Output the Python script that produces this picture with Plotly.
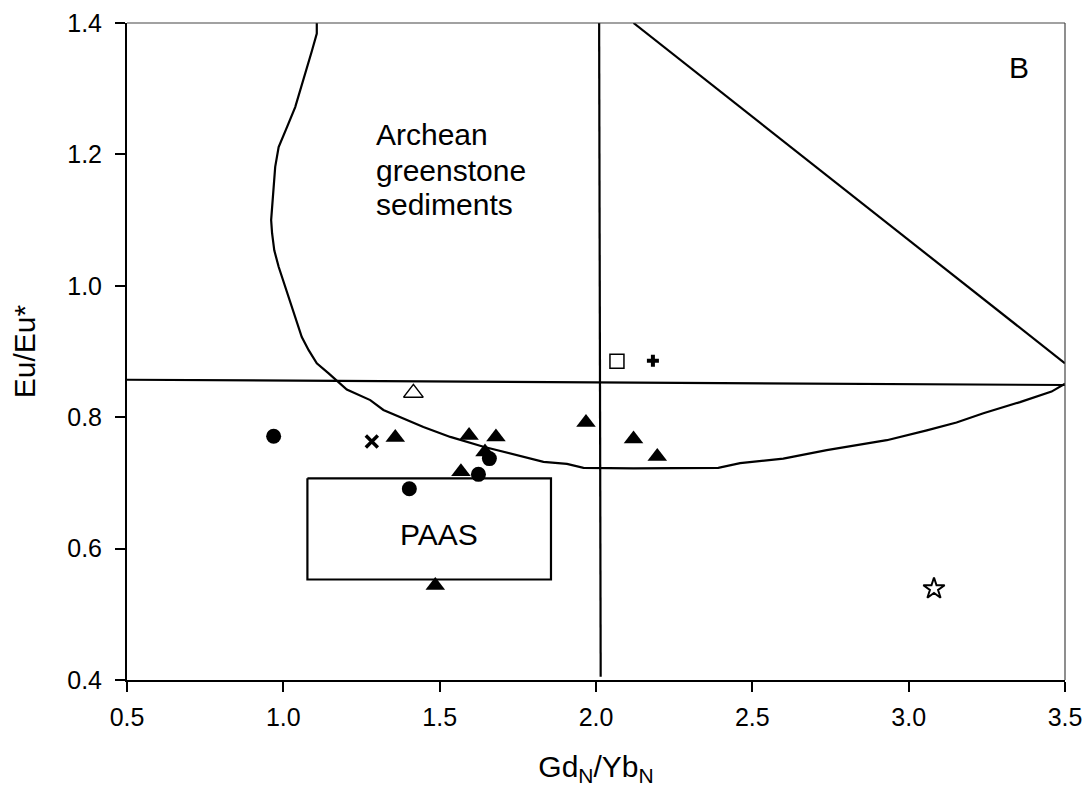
import plotly.graph_objects as go

# ---------------- data ----------------
# Archean greenstone sediments field boundary
field_x = [1.107, 1.107, 1.091, 1.070, 1.059, 1.038, 1.012, 0.985, 0.974, 0.967, 0.961, 0.964,
           0.971, 0.985, 1.006, 1.022, 1.043, 1.059, 1.081, 1.107, 1.144, 1.176, 1.203, 1.278,
           1.320, 1.448, 1.534, 1.640, 1.747, 1.832, 1.907, 1.960, 2.120, 2.333, 2.391, 2.461,
           2.599, 2.738, 2.930, 3.058, 3.153, 3.239, 3.356, 3.457, 3.494, 3.500]
field_y = [1.400, 1.384, 1.357, 1.323, 1.308, 1.272, 1.242, 1.211, 1.181, 1.130, 1.100, 1.080,
           1.054, 1.029, 0.998, 0.973, 0.943, 0.922, 0.902, 0.882, 0.867, 0.854, 0.842, 0.826,
           0.811, 0.785, 0.770, 0.755, 0.742, 0.732, 0.729, 0.723, 0.722, 0.723, 0.723, 0.730,
           0.737, 0.750, 0.765, 0.780, 0.792, 0.806, 0.823, 0.839, 0.849, 0.851]

# straight boundary lines
hline_x = [0.5, 3.5]
hline_y = [0.857, 0.849]
vline_x = [2.010, 2.015]
vline_y = [1.400, 0.405]
diag_x = [2.120, 3.500]
diag_y = [1.400, 0.882]

# PAAS box
paas_x = [1.077, 1.856, 1.856, 1.077, 1.077]
paas_y = [0.707, 0.707, 0.553, 0.553, 0.707]

# samples
tri_x = [1.358, 1.594, 1.680, 1.645, 1.568, 1.486, 1.968, 2.120, 2.196]
tri_y = [0.769, 0.772, 0.770, 0.747, 0.717, 0.544, 0.792, 0.767, 0.740]
circ_x = [0.969, 1.659, 1.624, 1.403]
circ_y = [0.771, 0.737, 0.713, 0.691]
otri_x = [1.416]
otri_y = [0.837]
cross_x = [1.283]
cross_y = [0.763]
sq_x = [2.067]
sq_y = [0.885]
plus_x = [2.182]
plus_y = [0.886]
star_x = [3.081]
star_y = [0.539]

x_ticks = [0.5, 1.0, 1.5, 2.0, 2.5, 3.0, 3.5]
y_ticks = [0.4, 0.6, 0.8, 1.0, 1.2, 1.4]

field_label_lines = ["Archean", "greenstone", "sediments"]
field_label_y = [1.231, 1.176, 1.123]

FONT = "Liberation Sans, Arial, sans-serif"

fig = go.Figure()

line_style = dict(color="black", width=2.2)
for xs, ys in [(field_x, field_y), (hline_x, hline_y), (vline_x, vline_y),
               (diag_x, diag_y), (paas_x, paas_y)]:
    fig.add_trace(go.Scatter(x=xs, y=ys, mode="lines", line=line_style,
                             hoverinfo="skip", showlegend=False))

def pts(xs, ys, symbol, size, color="black", lw=0, lc="black"):
    fig.add_trace(go.Scatter(x=xs, y=ys, mode="markers", showlegend=False,
                             marker=dict(symbol=symbol, size=size, color=color,
                                         line=dict(width=lw, color=lc))))

pts(tri_x, tri_y, "triangle-up", 17)
pts(circ_x, circ_y, "circle", 15)
pts(otri_x, otri_y, "triangle-up-open", 17, lw=1.5)
pts(cross_x, cross_y, "x-thin-open", 12, lw=3.5)
pts(sq_x, sq_y, "square-open", 14, lw=1.5)
pts(plus_x, plus_y, "cross", 10)
pts(star_x, star_y, "star-open", 16, lw=2)

# texts
fig.add_annotation(x=1.497, y=0.621, text="PAAS", showarrow=False,
                   font=dict(family=FONT, size=30, color="black"))
for line_text, ly in zip(field_label_lines, field_label_y):
    fig.add_annotation(x=1.291, y=ly, text=line_text, showarrow=False,
                       xanchor="left", align="left",
                       font=dict(family=FONT, size=30, color="black"))
fig.add_annotation(x=3.354, y=1.333, text="B", showarrow=False,
                   font=dict(family=FONT, size=30, color="black"))

# frame (top / right)
fig.add_shape(type="line", xref="paper", yref="paper", x0=0, x1=1, y0=1, y1=1,
              line=dict(color="#444", width=1.2))
fig.add_shape(type="line", xref="paper", yref="paper", x0=1, x1=1, y0=0, y1=1,
              line=dict(color="#444", width=1.2))

axis_common = dict(showline=True, linecolor="black", linewidth=2, ticks="outside",
                   ticklen=10, tickwidth=1.5, tickcolor="black", showgrid=False,
                   zeroline=False, automargin=False, ticklabeloverflow="allow",
                   tickfont=dict(family=FONT, size=25, color="black"),
                   tickformat=".1f")

# page body has an 8px margin; size the figure so the plot lands where the reference's does
fig.update_layout(
    width=1074, height=783,
    margin=dict(l=119, r=17, t=15, b=111),
    paper_bgcolor="white", plot_bgcolor="white",
    xaxis=dict(range=[0.5, 3.5], tickvals=x_ticks, ticklabelstandoff=4,
               title=dict(text="Gd<sub>N</sub>/Yb<sub>N</sub>", standoff=26,
                          font=dict(family=FONT, size=30, color="black")),
               **axis_common),
    yaxis=dict(range=[0.4, 1.4], tickvals=y_ticks, ticklabelstandoff=8,
               title=dict(text="Eu/Eu*", standoff=24,
                          font=dict(family=FONT, size=30, color="black")),
               **axis_common),
)

fig.write_html("out.html")
